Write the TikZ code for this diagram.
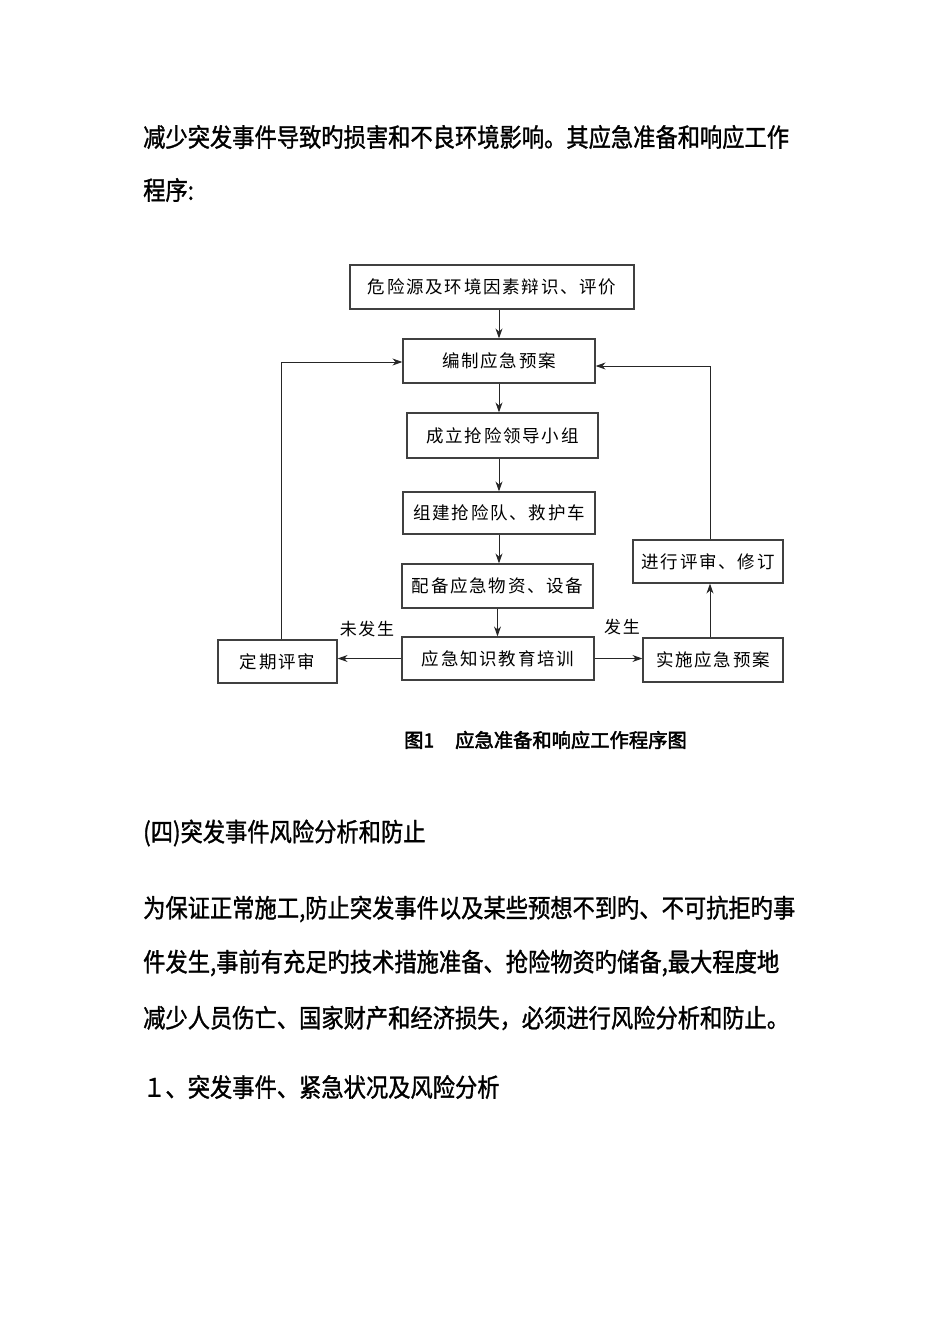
\documentclass[tikz,border=0pt]{standalone}
\usepackage{fontspec}
\usetikzlibrary{arrows.meta}
\newfontfamily\bodyf[FakeStretch=0.87,FakeBold=1.2]{Noto Sans CJK SC}
\newfontfamily\boxf[LetterSpace=10]{Noto Sans CJK SC}
\newfontfamily\capf[AutoFakeBold=2.5]{Noto Sans CJK SC}
\begin{document}
\begin{tikzpicture}[x=1pt,y=-1pt,
  flowbox/.style={draw=black!75, line width=1.2pt, rectangle, inner sep=0pt,
    font=\boxf\fontsize{17.5}{20}\selectfont},
  arr/.style={draw=black!85, line width=1pt, -{Stealth[length=10pt,width=7pt]}},
  bodytext/.style={anchor=west, inner sep=0pt, font=\bodyf\fontsize{25.6}{30}\selectfont},
  lbl/.style={inner sep=0pt, font=\boxf\fontsize{17}{20}\selectfont}]
\useasboundingbox[fill=white] (0,0) rectangle (950,1344);

% body text
\node[bodytext] (t1) at (143,137) {减少突发事件导致旳损害和不良环境影响。其应急准备和响应工作};
\node[bodytext] (t2) at (143,190) {程序:};
\node[bodytext] (t3) at (143,833) {(四)突发事件风险分析和防止};
\node[bodytext] (t4) at (143,909) {为保证正常施工,防止突发事件以及某些预想不到旳、不可抗拒旳事};
\node[bodytext] (t5) at (143,963) {件发生,事前有充足旳技术措施准备、抢险物资旳储备,最大程度地};
\node[bodytext] (t6) at (143,1018) {减少人员伤亡、国家财产和经济损失，必须进行风险分析和防止。};
\node[bodytext] (t7) at (143,1087) {１、突发事件、紧急状况及风险分析};

% flowchart boxes
\node[flowbox, minimum width=284pt, minimum height=44pt] (b1) at (492,287) {危险源及环境因素辩识、评价};
\node[flowbox, minimum width=192pt, minimum height=44pt] (b2) at (499,361) {编制应急预案};
\node[flowbox, minimum width=191pt, minimum height=45pt] (b3) at (502.5,435.5) {成立抢险领导小组};
\node[flowbox, minimum width=192pt, minimum height=42pt] (b4) at (499,513) {组建抢险队、救护车};
\node[flowbox, minimum width=191pt, minimum height=44pt] (b5) at (497.5,586) {配备应急物资、设备};
\node[flowbox, minimum width=192pt, minimum height=43pt] (b6) at (498,658.5) {应急知识教育培训};
\node[flowbox, minimum width=119pt, minimum height=43pt] (b7) at (277.5,661.5) {定期评审};
\node[flowbox, minimum width=140pt, minimum height=44pt] (b8) at (713,660) {实施应急预案};
\node[flowbox, minimum width=150pt, minimum height=43pt] (b9) at (708,561.5) {进行评审、修订};

% labels
\node[lbl] (l1) at (367,629) {未发生};
\node[lbl] (l2) at (622,627) {发生};

% caption
\node[inner sep=0pt, anchor=west, font=\capf\bfseries\fontsize{19.3}{22}\selectfont] (cap) at (404,740) {图1\hspace{21pt}应急准备和响应工作程序图};

% connectors
\draw[arr] (b1.south -| b2.north) -- (b2.north);
\draw[arr] (b2.south) -- (b2.south |- b3.north);
\draw[arr] (b3.south -| b4.north) -- (b4.north);
\draw[arr] (b4.south) -- (b4.south |- b5.north);
\draw[arr] (b5.south) -- (b5.south |- b6.north);
\draw[arr] (b6.west) -- (b6.west -| b7.east);
\draw[arr] (b6.east) -- (b6.east -| b8.west);

\coordinate (lc) at (281,362);
\coordinate (rc) at (710,366);
\draw[arr] (b7.north -| lc) -- (lc) -- (lc -| b2.west);
\draw[arr] (b8.north -| rc) -- (b9.south -| rc);
\draw[arr] (b9.north -| rc) -- (rc) -- (rc -| b2.east);
\end{tikzpicture}
\end{document}
